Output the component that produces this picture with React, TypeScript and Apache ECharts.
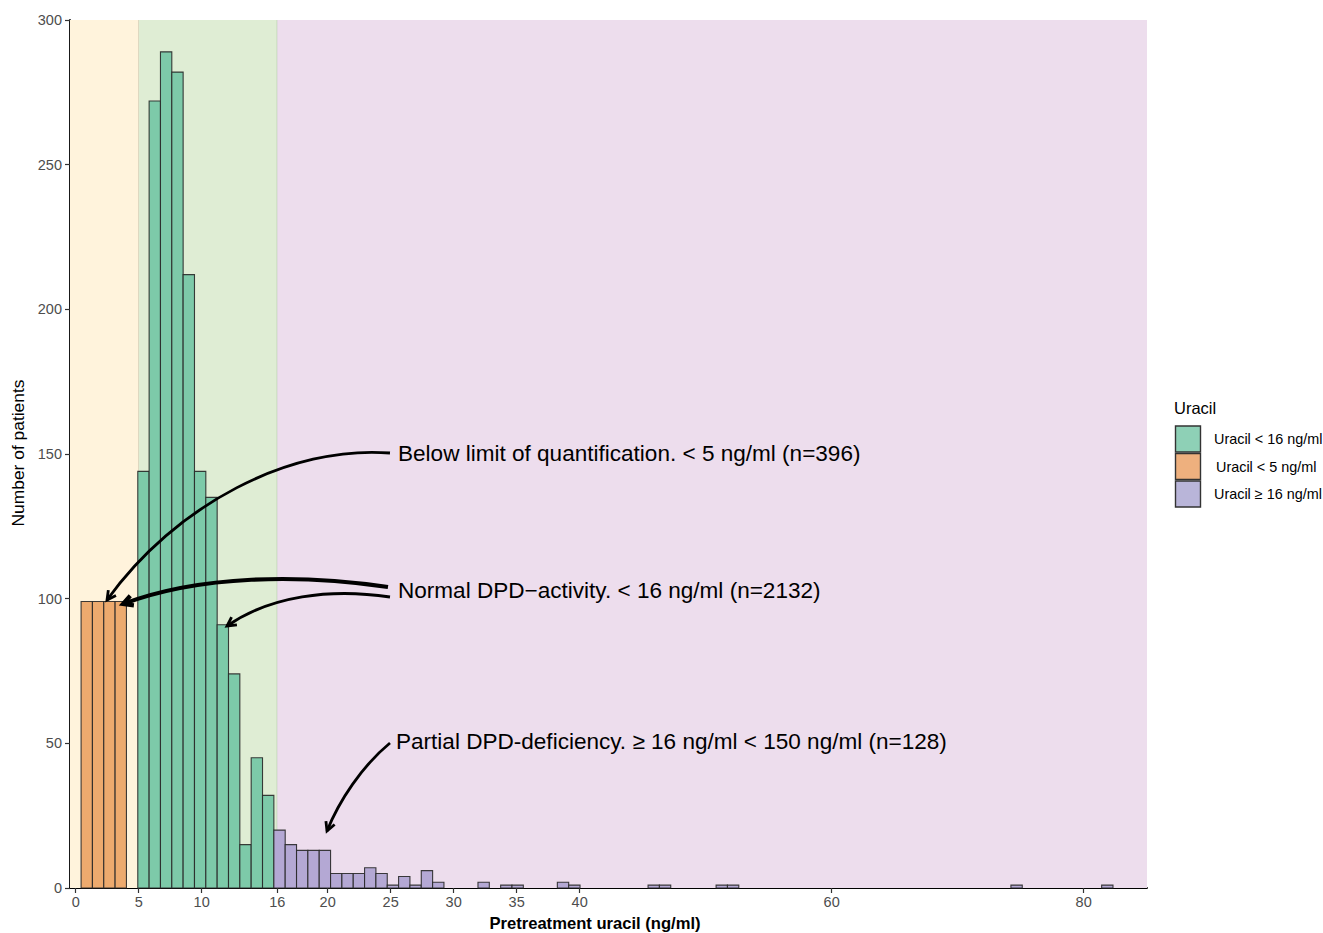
import React, { useEffect, useRef } from "react";
import * as echarts from "echarts";

// ---- data ----
const X_TICKS = [0, 5, 10, 16, 20, 25, 30, 35, 40, 60, 80];
const Y_MIN = 0;
const Y_MAX = 300;
const Y_INTERVAL = 50;
const X_MIN = -0.45;
const X_MAX = 85.03;

// histogram binning (bin width and origin of the bins)
const BIN_ORIGIN = 0.43;
const BIN_WIDTH = 0.9;

const lowBinIdx = [0, 1, 2, 3];
const lowCounts = [99, 99, 99, 99];

const normalBinIdx = [5, 6, 7, 8, 9, 10, 11, 12, 13, 14, 15, 16];
const normalCounts = [144, 272, 289, 282, 212, 144, 135, 91, 74, 15, 45, 32];

const partialBinIdx = [17, 18, 19, 20, 21, 22, 23, 24, 25, 26, 27, 28, 29, 30, 31, 35, 37, 38, 42, 43, 50, 51, 56, 57, 82, 90];
const partialCounts = [20, 15, 13, 13, 13, 5, 5, 5, 7, 5, 1, 4, 1, 6, 2, 2, 1, 1, 2, 1, 1, 1, 1, 1, 1, 1];

const regionBounds = [X_MIN, 5, 16, X_MAX];
const regionColors = ["#FFF3DC", "#DFEDD4", "#EDDDED"];

const legendLabels = ["Uracil < 16 ng/ml", "Uracil < 5 ng/ml", "Uracil \u2265 16 ng/ml"];
const legendColors = ["#8ED0B6", "#EEB07E", "#B9B5D9"];

const annotationTexts = [
  "Below limit of quantification. < 5 ng/ml (n=396)",
  "Normal DPD\u2212activity. < 16 ng/ml (n=2132)",
  "Partial DPD-deficiency. \u2265 16 ng/ml < 150 ng/ml (n=128)",
];

const FONT = "'Liberation Sans', Arial, Helvetica, sans-serif";

function binData(idx: number[], counts: number[]) {
  return idx.map((k, i) => [BIN_ORIGIN + k * BIN_WIDTH, BIN_ORIGIN + (k + 1) * BIN_WIDTH, counts[i]]);
}

function barSeries(name: string, data: number[][], color: string) {
  return {
    type: "custom",
    name,
    data,
    encode: { x: [0, 1], y: 2 },
    z: 3,
    renderItem: (params: any, api: any) => {
      const p0 = api.coord([api.value(0), api.value(2)]);
      const p1 = api.coord([api.value(1), 0]);
      return {
        type: "rect",
        shape: { x: p0[0], y: p0[1], width: p1[0] - p0[0], height: p1[1] - p0[1] },
        style: { fill: color, stroke: "rgba(40,40,40,0.9)", lineWidth: 1.1 },
      };
    },
  };
}

type Pt = [number, number];

function arrow(p0: Pt, p1: Pt, p2: Pt, p3: Pt, lw: number, headLen: number) {
  const dx = p3[0] - p2[0];
  const dy = p3[1] - p2[1];
  const len = Math.hypot(dx, dy);
  const ux = dx / len;
  const uy = dy / len;
  const ang = (28 * Math.PI) / 180;
  const rot = (a: number): Pt => [ux * Math.cos(a) - uy * Math.sin(a), ux * Math.sin(a) + uy * Math.cos(a)];
  const r1 = rot(ang);
  const r2 = rot(-ang);
  const a1: Pt = [p3[0] - headLen * r1[0], p3[1] - headLen * r1[1]];
  const a2: Pt = [p3[0] - headLen * r2[0], p3[1] - headLen * r2[1]];
  return [
    {
      type: "bezierCurve",
      shape: { x1: p0[0], y1: p0[1], cpx1: p1[0], cpy1: p1[1], cpx2: p2[0], cpy2: p2[1], x2: p3[0], y2: p3[1] },
      style: { stroke: "#000", lineWidth: lw, fill: null, lineCap: "butt" },
      z: 10,
    },
    {
      type: "polyline",
      shape: { points: [a1, p3, a2] },
      style: { stroke: "#000", lineWidth: lw, fill: null, lineJoin: "miter" },
      z: 10,
    },
  ];
}

function txt(text: string, x: number, y: number, size: number, extra: any = {}) {
  return {
    type: "text",
    x,
    y,
    z: 11,
    ...extra,
    style: {
      text,
      fontSize: size,
      fontFamily: FONT,
      fill: extra.fill || "#000",
      fontWeight: extra.fontWeight || "normal",
      align: extra.align || "left",
      textAlign: extra.align || "left",
      verticalAlign: "middle",
      textVerticalAlign: "middle",
    },
  };
}

export default function App() {
  const ref = useRef<HTMLDivElement>(null);

  useEffect(() => {
    if (!ref.current) return;
    const chart = echarts.init(ref.current, null, { renderer: "svg" });

    const regionData = regionColors.map((c, i) => [regionBounds[i], regionBounds[i + 1], i]);

    const graphics: any[] = [];
    // annotation arrows
    graphics.push(...arrow([390, 453], [290, 445], [175, 505], [107, 600], 2.8, 10));
    graphics.push(...arrow([388, 587], [300, 574], [200, 575], [123, 604], 4.2, 11));
    graphics.push(...arrow([390, 597], [330, 588], [270, 596], [227, 626], 2.8, 10));
    graphics.push(...arrow([390, 743], [362, 766], [339, 801], [327, 831], 2.8, 10));
    // annotation texts
    graphics.push(txt(annotationTexts[0], 398, 453, 22.55));
    graphics.push(txt(annotationTexts[1], 398, 590, 22.55));
    graphics.push(txt(annotationTexts[2], 396, 741, 22.55));
    // axis titles
    graphics.push(txt("Number of patients", 18, 453, 17.4, { align: "center", rotation: Math.PI / 2 }));
    graphics.push(txt("Pretreatment uracil (ng/ml)", 595, 923, 16.6, { align: "center", fontWeight: "bold" }));
    // legend
    graphics.push(txt("Uracil", 1174, 408, 16.5));
    const keyY = [426, 453.5, 481];
    const labelX = [1214, 1216, 1214];
    legendLabels.forEach((l, i) => {
      graphics.push({
        type: "rect",
        shape: { x: 1175.5, y: keyY[i], width: 25, height: 26 },
        style: { fill: legendColors[i], stroke: "#333", lineWidth: 1.4 },
        z: 11,
      });
      graphics.push(txt(l, labelX[i], keyY[i] + 13, 14.4));
    });

    chart.setOption({
      animation: false,
      backgroundColor: "#fff",
      grid: { left: 70, right: 176, top: 20, bottom: 45, containLabel: false },
      xAxis: {
        type: "value",
        min: X_MIN,
        max: X_MAX,
        splitLine: { show: false },
        axisLine: { show: true, onZero: false, lineStyle: { color: "#000", width: 1.8 } },
        axisTick: { show: true, customValues: X_TICKS, length: 5, lineStyle: { color: "#333", width: 1.2 } },
        axisLabel: {
          customValues: X_TICKS,
          color: "#4D4D4D",
          fontSize: 14.5,
          fontFamily: FONT,
          margin: 6,
        },
      },
      yAxis: {
        type: "value",
        min: Y_MIN,
        max: Y_MAX,
        interval: Y_INTERVAL,
        splitLine: { show: false },
        axisLine: { show: true, onZero: false, lineStyle: { color: "#000", width: 1.8 } },
        axisTick: { show: true, length: 5, lineStyle: { color: "#333", width: 1.2 } },
        axisLabel: { color: "#4D4D4D", fontSize: 14.5, fontFamily: FONT, margin: 8 },
      },
      series: [
        {
          type: "custom",
          name: "regions",
          data: regionData,
          encode: { x: [0, 1] },
          z: 1,
          silent: true,
          renderItem: (params: any, api: any) => {
            const i = api.value(2);
            const p0 = api.coord([api.value(0), Y_MAX]);
            const p1 = api.coord([api.value(1), Y_MIN]);
            const children: any[] = [
              {
                type: "rect",
                shape: { x: p0[0], y: p0[1], width: p1[0] - p0[0], height: p1[1] - p0[1] },
                style: { fill: regionColors[i] },
              },
            ];
            if (i < 2) {
              children.push({
                type: "line",
                shape: { x1: p1[0], y1: p0[1], x2: p1[0], y2: p1[1] },
                style: { stroke: i === 0 ? "#D8C7AE" : "#A7C09F", lineWidth: 1 },
              });
            }
            return { type: "group", children };
          },
        },
        barSeries("Uracil < 5 ng/ml", binData(lowBinIdx, lowCounts), "#EDAA6E"),
        barSeries("Uracil < 16 ng/ml", binData(normalBinIdx, normalCounts), "#7DCAA9"),
        barSeries("Uracil \u2265 16 ng/ml", binData(partialBinIdx, partialCounts), "#B4A8D4"),
      ],
      graphic: graphics,
    });

    return () => chart.dispose();
  }, []);

  return (
    <div
      ref={ref}
      style={{ position: "fixed", left: 0, top: 0, width: 1323, height: 933, background: "#fff" }}
    />
  );
}
